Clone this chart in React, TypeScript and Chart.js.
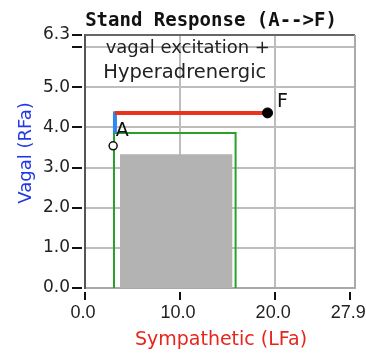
import { useEffect, useRef } from 'react';
import { Chart, registerables } from 'chart.js';

Chart.register(...registerables);

const TITLE = 'Stand Response (A-->F)';
const X_TITLE = 'Sympathetic (LFa)';
const Y_TITLE = 'Vagal (RFa)';
const REGION_TEXT = ['vagal excitation +', 'Hyperadrenergic'];

const xTicks = [0, 10, 20, 27.9];
const yTicks = [0, 1, 2, 3, 4, 5, 6, 6.3];
const X_MAX = 28.4;
const Y_MAX = 6.3;

// shaded "normal" box
const normalBoxX = [3.67, 3.67, 15.52, 15.52];
const normalBoxY = [0, 3.33, 3.33, 0];
// green outline box
const greenBoxX = [3.05, 3.05, 15.84, 15.84];
const greenBoxY = [0, 3.86, 3.86, 0];
// vagal (blue) change
const vagalX = [3.15, 3.15];
const vagalY = [3.86, 4.4];
// sympathetic (red) change
const sympX = [3.15, 19.2];
const sympY = [4.36, 4.36];
// points
const pointA = { x: 2.96, y: 3.54, label: 'A' };
const pointF = { x: 19.2, y: 4.36, label: 'F' };
// region text anchor (data units)
const regionAnchor = { x: 10.6, y: 5.98 };

const zip = (xs: number[], ys: number[]) => xs.map((x, i) => ({ x, y: ys[i] }));

const FONT = '"DejaVu Sans", sans-serif';

const decor = {
  id: 'decor',
  afterDraw(chart: any) {
    const { ctx, chartArea: a } = chart;
    const xs = chart.scales.x;
    const ys = chart.scales.y;
    const line = (x1: number, y1: number, x2: number, y2: number) => {
      ctx.beginPath();
      ctx.moveTo(x1, y1);
      ctx.lineTo(x2, y2);
      ctx.stroke();
    };
    ctx.save();
    ctx.lineWidth = 2;
    ctx.strokeStyle = '#666';
    line(a.left, a.top, a.right, a.top);
    ctx.strokeStyle = '#aaa';
    line(a.right, a.top, a.right, a.bottom);
    // tick marks
    ctx.strokeStyle = '#111';
    ys.ticks.forEach((t: any) => {
      const py = Math.round(ys.getPixelForValue(t.value));
      line(a.left - 13, py, a.left - 3, py);
    });
    xs.ticks.forEach((t: any) => {
      const px = Math.round(xs.getPixelForValue(t.value));
      line(px, a.bottom + 4, px, a.bottom + 12);
    });

    // title
    ctx.fillStyle = '#111';
    ctx.font = 'bold 19px "DejaVu Sans Mono", monospace';
    ctx.textAlign = 'center';
    ctx.textBaseline = 'alphabetic';
    ctx.fillText(TITLE, (a.left + a.right) / 2 - 9, 26);

    // x title
    ctx.fillStyle = '#e8251c';
    ctx.font = `19px ${FONT}`;
    ctx.fillText(X_TITLE, (a.left + a.right) / 2 + 1, 345);

    // y title
    ctx.save();
    ctx.translate(26, 153);
    ctx.rotate(-Math.PI / 2);
    ctx.fillStyle = '#2138e6';
    ctx.font = `18px ${FONT}`;
    ctx.textBaseline = 'middle';
    ctx.fillText(Y_TITLE, 0, 0);
    ctx.restore();

    // region text
    ctx.fillStyle = '#222';
    ctx.textBaseline = 'middle';
    const rx = xs.getPixelForValue(regionAnchor.x);
    const ry = ys.getPixelForValue(regionAnchor.y);
    ctx.font = `18px ${FONT}`;
    ctx.fillText(REGION_TEXT[0], rx + 2, ry);
    ctx.font = `19.5px ${FONT}`;
    ctx.fillText(REGION_TEXT[1], rx - 1, ry + 25);

    // point labels
    ctx.font = `19px ${FONT}`;
    ctx.fillStyle = '#111';
    ctx.fillText(pointA.label, xs.getPixelForValue(pointA.x) + 9, ys.getPixelForValue(pointA.y) - 15);
    ctx.fillText(pointF.label, xs.getPixelForValue(pointF.x) + 15, ys.getPixelForValue(pointF.y) - 11);
    ctx.restore();
  },
};

export default function App() {
  const ref = useRef<HTMLCanvasElement>(null);
  useEffect(() => {
    if (!ref.current) return;
    const lineDs = (data: any, color: string, width: number) => ({
      data,
      showLine: true,
      borderColor: color,
      borderWidth: width,
      pointRadius: 0,
      fill: false,
      tension: 0,
      borderCapStyle: 'butt',
    });
    const chart = new Chart(ref.current, {
      type: 'scatter',
      data: {
        datasets: [
          {
            data: [{ x: pointF.x, y: pointF.y }],
            pointRadius: 5,
            backgroundColor: '#000',
            borderColor: '#000',
            borderWidth: 1,
          },
          {
            data: [{ x: pointA.x, y: pointA.y }],
            pointRadius: 4,
            backgroundColor: '#fff',
            borderColor: '#111',
            borderWidth: 1.5,
          },
          lineDs(zip(sympX, sympY), '#e8341c', 4),
          lineDs(zip(vagalX, vagalY), '#2f86f0', 4),
          lineDs(zip(greenBoxX, greenBoxY), '#2aa02a', 2),
          {
            data: zip(normalBoxX, normalBoxY),
            showLine: true,
            borderWidth: 0,
            borderColor: 'rgba(0,0,0,0)',
            backgroundColor: '#b3b3b3',
            pointRadius: 0,
            fill: 'origin',
            tension: 0,
          },
        ] as any,
      },
      options: {
        animation: false,
        responsive: false,
        events: [],
        layout: { padding: { top: 35, right: 11, left: 0, bottom: 0 } },
        plugins: { legend: { display: false }, tooltip: { enabled: false }, title: { display: false } },
        scales: {
          x: {
            type: 'linear',
            min: 0,
            max: X_MAX,
            afterBuildTicks: (s: any) => {
              s.ticks = xTicks.map((v) => ({ value: v }));
            },
            afterFit: (s: any) => {
              s.height = 65;
              s.paddingLeft = 0;
              s.paddingRight = 0;
            },
            ticks: {
              autoSkip: false,
              maxRotation: 0,
              padding: 14,
              labelOffset: -2,
              color: '#222',
              font: { family: '"Liberation Sans", Arial, sans-serif', size: 18 },
              callback: (v: any) => Number(v).toFixed(1),
            },
            grid: {
              drawTicks: false,
              lineWidth: 2,
              color: (c: any) =>
                c.tick && (c.tick.value === 0 || c.tick.value === 27.9) ? 'rgba(0,0,0,0)' : '#bdbdbd',
            },
            border: { display: true, color: '#aaa', width: 2 },
          },
          y: {
            type: 'linear',
            min: 0,
            max: Y_MAX,
            afterBuildTicks: (s: any) => {
              s.ticks = yTicks.map((v) => ({ value: v }));
            },
            afterFit: (s: any) => {
              s.width = 85;
              s.paddingTop = 0;
              s.paddingBottom = 0;
            },
            ticks: {
              autoSkip: false,
              padding: 15,
              color: '#222',
              font: { family: FONT, size: 17 },
              callback: (v: any) => (Number(v) === 6 ? '' : Number(v).toFixed(1)),
            },
            grid: {
              drawTicks: false,
              lineWidth: 2,
              color: (c: any) =>
                c.tick && (c.tick.value === 0 || c.tick.value === 6.3) ? 'rgba(0,0,0,0)' : '#bdbdbd',
            },
            border: { display: true, color: '#555', width: 2 },
          },
        },
      },
      plugins: [decor],
    } as any);
    return () => chart.destroy();
  }, []);
  return (
    <div style={{ position: 'fixed', left: 0, top: 0, width: 366, height: 353, background: '#fff' }}>
      <canvas ref={ref} width={366} height={353} style={{ display: 'block' }} />
    </div>
  );
}
